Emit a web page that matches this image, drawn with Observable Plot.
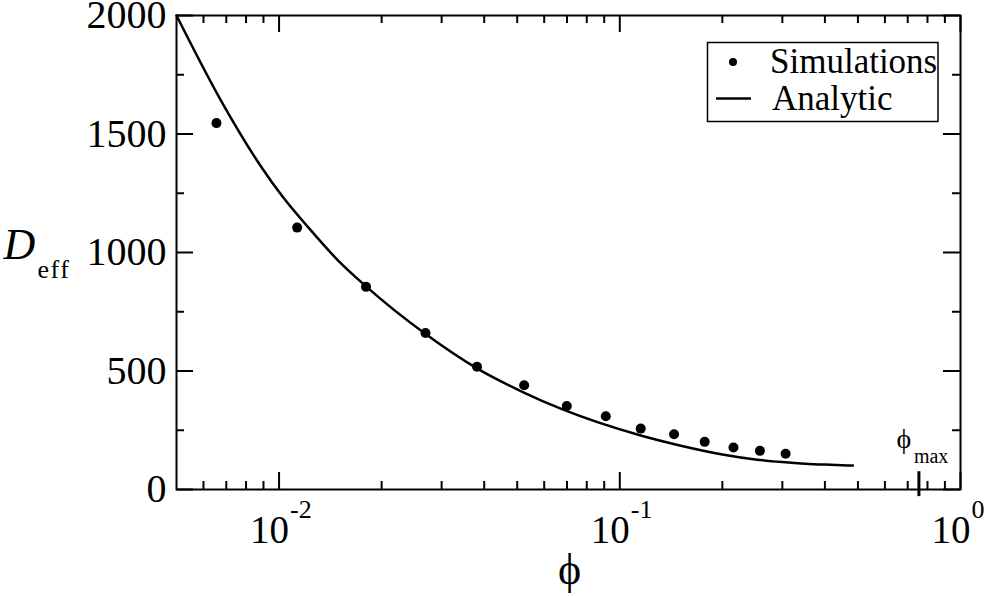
<!DOCTYPE html>
<html>
<head>
<meta charset="utf-8">
<script src="https://cdn.jsdelivr.net/npm/d3@7"></script>
<script src="https://cdn.jsdelivr.net/npm/@observablehq/plot@0.6"></script>
<style>
  body { margin: 0; background: #fff; }
  #chart { width: 992px; height: 596px; }
  #chart svg { overflow: visible; }
</style>
</head>
<body>
<div id="chart"></div>
<script>
// Simulation results (volume fraction phi, effective D)
const simPhi = [0.00655, 0.0113, 0.0180, 0.0269, 0.0381, 0.0524, 0.0699, 0.0910, 0.1152, 0.1443, 0.1775, 0.2156, 0.2578, 0.3067];
const simD   = [1546, 1105, 855, 660, 518, 440, 352, 309, 257, 233, 201, 177, 163, 151];

// Analytic curve
const anaPhi = [0.005, 0.00676, 0.00886, 0.01025, 0.0122, 0.01486, 0.0180, 0.0268, 0.0381, 0.0523, 0.0671, 0.1152, 0.15, 0.2, 0.25, 0.3, 0.35, 0.4, 0.4832];
const anaD   = [2000, 1640, 1362, 1235, 1105, 968, 857, 658, 511, 409, 341, 228, 186, 148, 127, 116, 109, 105, 101];

// phi_max marker
const phiMax = [0.755];

// Axis ticks
const xMajorTicks = [0.01, 0.1, 1];
const xMajorExp = ["-2", "-1", "0"];
const xMinorTicks = [0.006, 0.007, 0.008, 0.009, 0.02, 0.03, 0.04, 0.05, 0.06, 0.07, 0.08, 0.09, 0.2, 0.3, 0.4, 0.5, 0.6, 0.7, 0.8, 0.9];
const yMajorTicks = [0, 500, 1000, 1500, 2000];
const yMinorTicks = [250, 750, 1250, 1750];

const legendLabels = ["Simulations", "Analytic"];

const sim = simPhi.map((p, i) => ({phi: p, D: simD[i]}));
const ana = anaPhi.map((p, i) => ({phi: p, D: anaD[i]}));

const W = 992, H = 596, mL = 176, mR = 32, mT = 15, mB = 107;
const MAJ = 17, MIN = 8;

const chart = Plot.plot({
  width: W,
  height: H,
  marginLeft: mL,
  marginRight: mR,
  marginTop: mT,
  marginBottom: mB,
  style: {fontFamily: "'Liberation Serif', 'Times New Roman', serif", background: "#fff", color: "#000"},
  x: {type: "log", domain: [0.005, 1], axis: null},
  y: {domain: [0, 2000], axis: null},
  marks: [
    // y tick labels
    Plot.text(yMajorTicks, {y: d => d, frameAnchor: "left", text: d => String(d), textAnchor: "end", lineAnchor: "middle", dx: -10, fontSize: 40}),
    // x tick labels 10^n
    Plot.text(xMajorTicks, {x: d => d, frameAnchor: "bottom", text: () => "10", textAnchor: "end", lineAnchor: "bottom", dx: 10, dy: 53, fontSize: 39}),
    Plot.text(xMajorTicks, {x: d => d, frameAnchor: "bottom", text: (d, i) => xMajorExp[i], textAnchor: "start", lineAnchor: "bottom", dx: 11, dy: 28, fontSize: 26}),
    // axis titles
    Plot.text(["ϕ"], {frameAnchor: "bottom", text: d => d, lineAnchor: "bottom", dx: 1, dy: 94, fontSize: 44}),
    Plot.text(["D"], {frameAnchor: "left", text: d => d, textAnchor: "start", lineAnchor: "bottom", dx: -173, dy: 6, fontSize: 44, fontStyle: "italic"}),
    Plot.text(["eff"], {frameAnchor: "left", text: d => d, textAnchor: "start", lineAnchor: "bottom", dx: -139, dy: 25, fontSize: 26}),
    // phi_max marker
    Plot.ruleX(phiMax, {x: d => d, y1: -30, y2: 75, strokeWidth: 3}),
    Plot.text(phiMax, {x: d => d, frameAnchor: "bottom", text: () => "ϕ", textAnchor: "middle", lineAnchor: "bottom", dx: -15, dy: -42, fontSize: 28}),
    Plot.text(phiMax, {x: d => d, frameAnchor: "bottom", text: () => "max", textAnchor: "start", lineAnchor: "bottom", dx: -5, dy: -27, fontSize: 20}),
    // data
    Plot.line(ana, {x: "phi", y: "D", curve: "monotone-x", strokeWidth: 2.5}),
    Plot.dot(sim, {x: "phi", y: "D", r: 5, fill: "#000", stroke: "none"}),
    Plot.frame({strokeWidth: 2}),
    // inward ticks on all four sides, drawn as marks that use the x/y scales and the frame edges
    Plot.tickX(xMajorTicks, {x: d => d, insetTop: H - mT - mB - MAJ, stroke: "#000", strokeWidth: 2}),
    Plot.tickX(xMinorTicks, {x: d => d, insetTop: H - mT - mB - MIN, stroke: "#000", strokeWidth: 2}),
    Plot.tickX(xMajorTicks, {x: d => d, insetBottom: H - mT - mB - MAJ, stroke: "#000", strokeWidth: 2}),
    Plot.tickX(xMinorTicks, {x: d => d, insetBottom: H - mT - mB - MIN, stroke: "#000", strokeWidth: 2}),
    Plot.tickY(yMajorTicks, {y: d => d, insetRight: W - mL - mR - MAJ, stroke: "#000", strokeWidth: 2}),
    Plot.tickY(yMinorTicks, {y: d => d, insetRight: W - mL - mR - MIN, stroke: "#000", strokeWidth: 2}),
    Plot.tickY(yMajorTicks, {y: d => d, insetLeft: W - mL - mR - MAJ, stroke: "#000", strokeWidth: 2}),
    Plot.tickY(yMinorTicks, {y: d => d, insetLeft: W - mL - mR - MIN, stroke: "#000", strokeWidth: 2})
  ]
});

document.getElementById("chart").appendChild(chart);

const svg = d3.select(chart);
svg.selectAll("text").filter(function() { return this.textContent === "eff"; }).style("letter-spacing", "1.5px");

// legend
const lg = svg.append("g").attr("aria-label", "legend")
  .attr("font-family", "'Liberation Serif', 'Times New Roman', serif")
  .attr("text-anchor", "start");
lg.append("rect").attr("x", 707.5).attr("y", 42.5).attr("width", 230.5).attr("height", 79)
  .attr("fill", "#fff").attr("stroke", "#000").attr("stroke-width", 1.5);
lg.append("circle").attr("cx", 733).attr("cy", 62).attr("r", 4).attr("fill", "#000");
lg.append("line").attr("x1", 716).attr("x2", 751).attr("y1", 98.5).attr("y2", 98.5).attr("stroke", "#000").attr("stroke-width", 2.5);
lg.selectAll("text.lab").data(legendLabels).join("text").attr("class", "lab")
  .attr("x", (d, i) => i === 0 ? 770 : 772)
  .attr("y", (d, i) => i === 0 ? 73 : 110)
  .attr("text-anchor", "start")
  .attr("font-size", 35)
  .attr("fill", "#000")
  .text(d => d);
</script>
</body>
</html>
